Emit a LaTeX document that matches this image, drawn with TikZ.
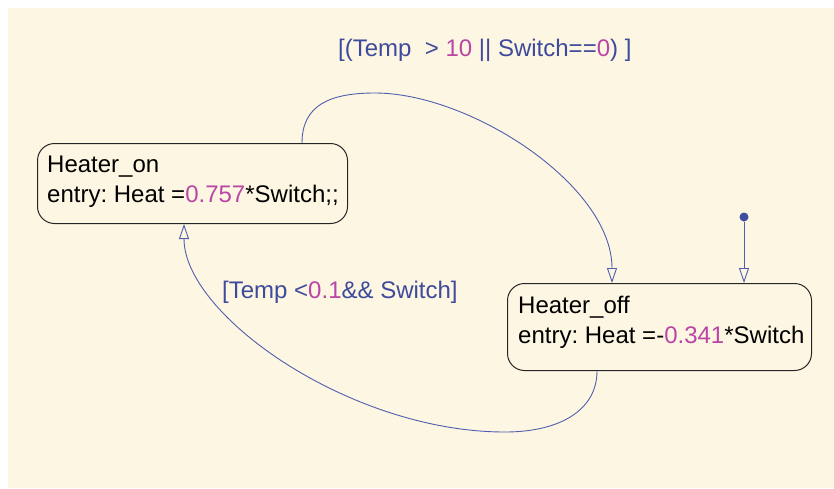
\documentclass[tikz,border=0pt]{standalone}
\usepackage{fontspec}
\setmainfont{Liberation Sans}
\usetikzlibrary{arrows.meta}
\frenchspacing

\definecolor{paper}{RGB}{253,246,226}
\definecolor{wire}{RGB}{80,94,174}
\definecolor{guardtxt}{RGB}{62,74,156}
\definecolor{numtxt}{RGB}{185,70,165}
\definecolor{dotblue}{RGB}{64,78,160}

\tikzset{
  statebox/.style={draw=black!85, line width=1pt, rounded corners=17pt,
    minimum width=#1, inner sep=0pt, anchor=north west},
  stxt/.style={inner sep=0pt, anchor=base west, text=black,
    font=\fontsize{24}{30}\selectfont},
  guard/.style={inner sep=0pt, anchor=base west, text=guardtxt,
    font=\fontsize{24}{30}\selectfont},
  trans/.style={draw=wire, line width=0.9pt,
    -{Triangle[open, length=15pt, width=10pt]}},
}
\newcommand{\num}[1]{\textcolor{numtxt}{#1}}

\begin{document}
\begin{tikzpicture}[x=1pt, y=-1pt]
  \useasboundingbox (0,0) rectangle (834,488);
  \fill[paper] (8,8) rectangle (834,488);

  % states
  \node[statebox=310pt, minimum height=80pt] (on) at (37,143) {};
  \node[statebox=304pt, minimum height=87pt] (off) at (507,283) {};

  \node[stxt] (onname) at (47,172) {Heater\_on};
  \node[stxt] (onentry) at (47,202) {entry: Heat =\num{0.757}*Switch;;};
  \node[stxt] (offname) at (518,313) {Heater\_off};
  \node[stxt] (offentry) at (518,343) {entry: Heat =-\num{0.341}*Switch};

  % default transition
  \node[circle, fill=dotblue, inner sep=0pt, minimum size=9pt] (init) at (744,217) {};
  \draw[trans] (init) -- (init |- off.north);

  % Heater_on -> Heater_off
  \draw[trans] ([xshift=265pt]on.north west)
    .. controls (302,105) and (330,93) .. (375,93)
    .. controls (470,93) and (612,185) .. ([xshift=105pt]off.north west);

  % Heater_off -> Heater_on
  \draw[trans] ([xshift=90pt]off.south west)
    .. controls (597,410) and (560,432) .. (505,432)
    .. controls (350,432) and (184,315) .. ([xshift=147pt]on.south west);

  % guards
  \node[guard] (g1) at (338,56) {[(Temp\ \ > \num{10} || Switch==\num{0}) ]};
  \node[guard] (g2) at (222,298) {[Temp <\num{0.1}\&\& Switch]};
\end{tikzpicture}
\end{document}
